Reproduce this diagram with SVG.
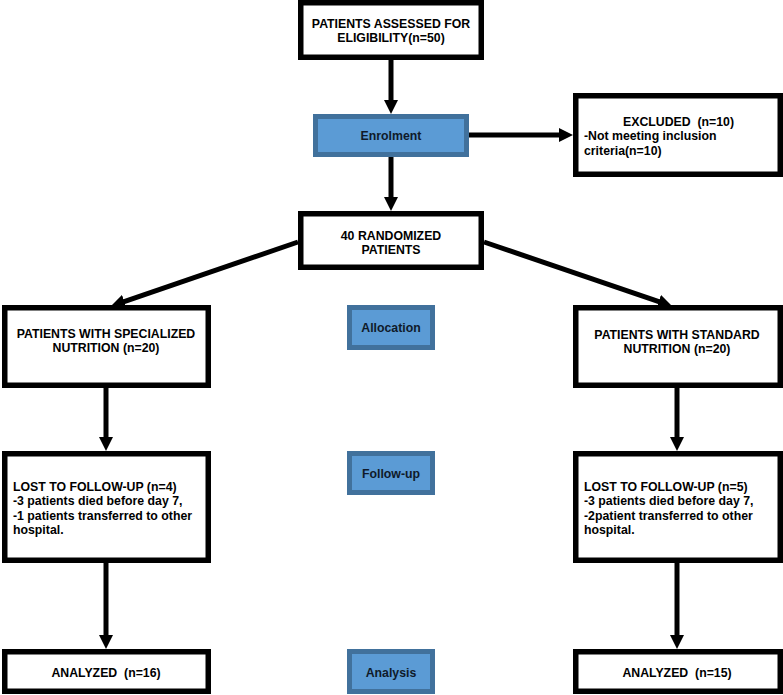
<svg xmlns="http://www.w3.org/2000/svg" width="783" height="695" viewBox="0 0 783 695">
<defs>
<style>
.box{fill:#ffffff;stroke:#000000;stroke-width:5.5}
.stage{fill:#5b9bd5;stroke:#41719c;stroke-width:5}
.t{font-family:"Liberation Sans",Arial,sans-serif;font-weight:bold;font-size:12.3px;fill:#000000;white-space:pre}
.c{text-anchor:middle}
.st{fill:#0f1a2a}
.conn{stroke:#000000;stroke-width:5;fill:none}
</style>
<marker id="ah" viewBox="0 0 14 14" markerWidth="14" markerHeight="14" refX="4" refY="7" orient="auto" markerUnits="userSpaceOnUse">
<path d="M0,0 L14,7 L0,14 z" fill="#000000"/>
</marker>
</defs>
<rect width="783" height="695" fill="#ffffff"/>

<g id="connectors">
<line class="conn" x1="391" y1="60" x2="391" y2="104" marker-end="url(#ah)"/>
<line class="conn" x1="469" y1="135" x2="563" y2="135" marker-end="url(#ah)"/>
<line class="conn" x1="391" y1="157" x2="391" y2="201" marker-end="url(#ah)"/>
<line class="conn" x1="298" y1="242" x2="120.5" y2="302.8" marker-end="url(#ah)"/>
<line class="conn" x1="484" y1="242" x2="662.5" y2="302.8" marker-end="url(#ah)"/>
<line class="conn" x1="106" y1="388" x2="106" y2="441" marker-end="url(#ah)"/>
<line class="conn" x1="106" y1="563" x2="106" y2="639" marker-end="url(#ah)"/>
<line class="conn" x1="677" y1="388" x2="677" y2="441" marker-end="url(#ah)"/>
<line class="conn" x1="677" y1="563" x2="677" y2="639" marker-end="url(#ah)"/>
</g>

<g id="assessed">
<rect class="box" x="300.75" y="2.75" width="180.5" height="54.5"/>
<text class="t c" x="391" y="27.5">PATIENTS ASSESSED FOR</text>
<text class="t c" x="391" y="41.5">ELIGIBILITY(n=50)</text>
</g>

<g id="enrolment">
<rect class="stage" x="315.5" y="116.5" width="151" height="38"/>
<text class="t c st" x="391" y="139.5">Enrolment</text>
</g>

<g id="excluded">
<rect class="box" x="575.75" y="95.75" width="204.5" height="78.5"/>
<text class="t" x="623" y="125.5" xml:space="preserve">EXCLUDED  (n=10)</text>
<text class="t" x="584" y="139.5">-Not meeting inclusion</text>
<text class="t" x="584" y="154.5">criteria(n=10)</text>
</g>

<g id="randomized">
<rect class="box" x="300.75" y="213.75" width="180.5" height="53.5"/>
<text class="t c" x="391" y="239.5">40 RANDOMIZED</text>
<text class="t c" x="391" y="253.5">PATIENTS</text>
</g>

<g id="specialized">
<rect class="box" x="4.75" y="307.75" width="203.5" height="77.5"/>
<text class="t c" x="106" y="337.5">PATIENTS WITH SPECIALIZED</text>
<text class="t c" x="106" y="351.5">NUTRITION (n=20)</text>
</g>

<g id="allocation">
<rect class="stage" x="349.5" y="307.5" width="83" height="40"/>
<text class="t c st" x="391" y="331.5">Allocation</text>
</g>

<g id="standard">
<rect class="box" x="575.75" y="307.75" width="204.5" height="77.5"/>
<text class="t c" x="677" y="339">PATIENTS WITH STANDARD</text>
<text class="t c" x="677" y="353">NUTRITION (n=20)</text>
</g>

<g id="lost-left">
<rect class="box" x="4.75" y="453.75" width="203.5" height="106.5"/>
<text class="t" x="13" y="490.5">LOST TO FOLLOW-UP (n=4)</text>
<text class="t" x="13" y="505">-3 patients died before day 7,</text>
<text class="t" x="13" y="519.5">-1 patients transferred to other</text>
<text class="t" x="13" y="534">hospital.</text>
</g>

<g id="followup">
<rect class="stage" x="349.5" y="453.5" width="83" height="39"/>
<text class="t c st" x="391" y="477.5">Follow-up</text>
</g>

<g id="lost-right">
<rect class="box" x="575.75" y="453.75" width="204.5" height="106.5"/>
<text class="t" x="584" y="490.5">LOST TO FOLLOW-UP (n=5)</text>
<text class="t" x="584" y="505">-3 patients died before day 7,</text>
<text class="t" x="584" y="519.5">-2patient transferred to other</text>
<text class="t" x="584" y="534">hospital.</text>
</g>

<g id="analyzed-left">
<rect class="box" x="4.75" y="651.75" width="203.5" height="39.5"/>
<text class="t c" x="106" y="676.5" xml:space="preserve">ANALYZED  (n=16)</text>
</g>

<g id="analysis">
<rect class="stage" x="349.5" y="651.5" width="83" height="40"/>
<text class="t c st" x="391" y="676.5">Analysis</text>
</g>

<g id="analyzed-right">
<rect class="box" x="575.75" y="651.75" width="204.5" height="39.5"/>
<text class="t c" x="677" y="676.5" xml:space="preserve">ANALYZED  (n=15)</text>
</g>
</svg>
